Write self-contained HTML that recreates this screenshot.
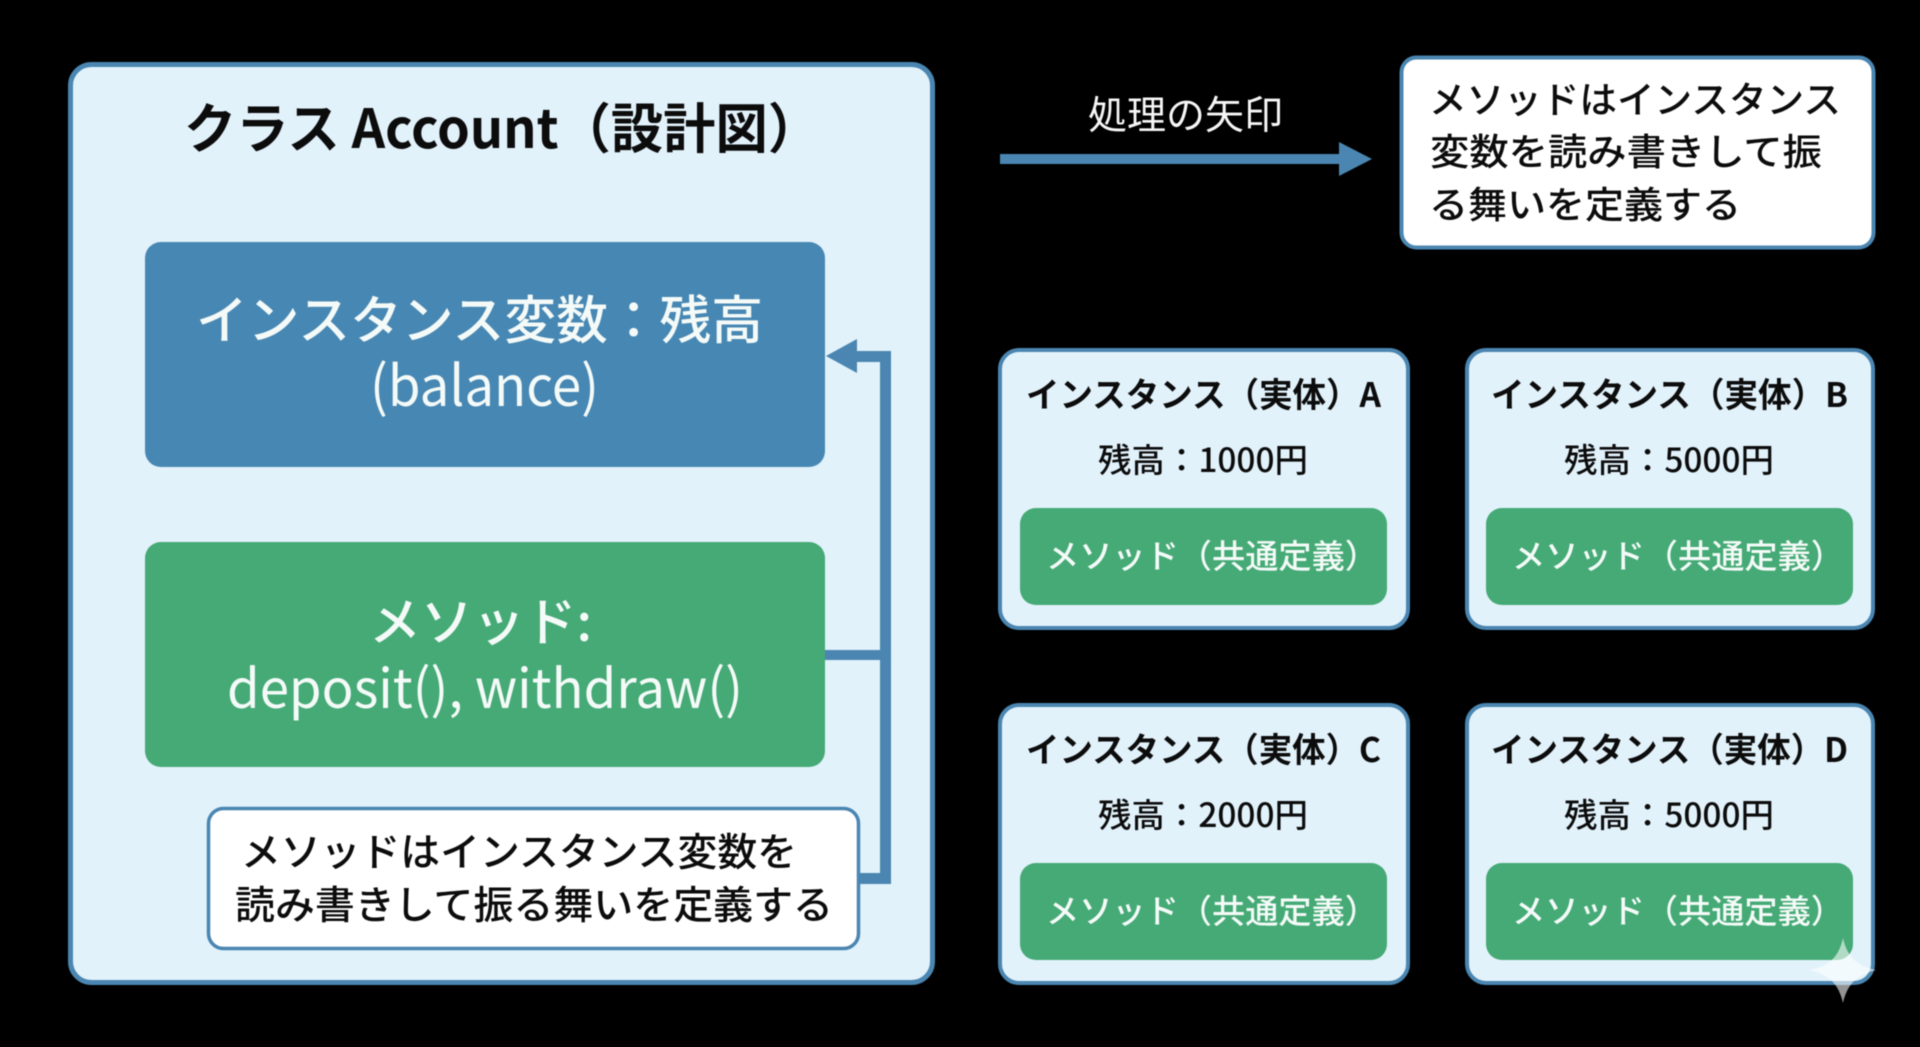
<!DOCTYPE html>
<html lang="ja">
<head>
<meta charset="utf-8">
<title>クラス Account</title>
<style>
html,body{margin:0;padding:0;background:#000;width:1920px;height:1047px;overflow:hidden}
svg{display:block;position:absolute;left:0;top:0;filter:blur(0.4px)}
text{font-family:"Noto Sans CJK JP","Liberation Sans",sans-serif;white-space:pre}
.k{fill:#0c0c0c}
.w{fill:#f4faf8}
.panel{fill:#e2f2fb;stroke:#4a86b1}
.grn{fill:#45aa75}
.ln{fill:#4a86b1}
</style>
</head>
<body>
<svg width="1920" height="1047" viewBox="0 0 1920 1047" xmlns="http://www.w3.org/2000/svg">
<rect x="0" y="0" width="1920" height="1047" fill="#000"/>

<!-- class panel -->
<rect class="panel" x="70.5" y="64.5" width="862" height="918" rx="21" stroke-width="5"/>
<text class="k" x="184" y="148" font-size="54" font-weight="700" textLength="636" lengthAdjust="spacingAndGlyphs">クラス Account（設計図）</text>

<rect x="145" y="242" width="680" height="225" rx="16" fill="#4787b3"/>
<text class="w" x="196" y="339" font-size="52" font-weight="500" textLength="567" lengthAdjust="spacingAndGlyphs">インスタンス変数：残高</text>
<text class="w" x="370" y="406" font-size="56" font-weight="400" textLength="229" lengthAdjust="spacingAndGlyphs">(balance)</text>

<rect x="145" y="542" width="680" height="225" rx="16" class="grn"/>
<text class="w" x="369" y="641" font-size="52" font-weight="500" textLength="223" lengthAdjust="spacingAndGlyphs">メソッド:</text>
<text class="w" x="227" y="708" font-size="54" font-weight="400" textLength="516" lengthAdjust="spacingAndGlyphs">deposit(), withdraw()</text>

<!-- connectors -->
<rect class="ln" x="880" y="351" width="11" height="533"/>
<rect class="ln" x="850" y="351" width="41" height="11"/>
<polygon class="ln" points="826,356 857,339 857,373"/>
<rect class="ln" x="825" y="650" width="60" height="10"/>
<rect class="ln" x="858" y="873" width="33" height="11"/>

<!-- method note -->
<rect x="208.5" y="808.5" width="650" height="140" rx="15" fill="#fff" stroke="#4a86b1" stroke-width="3.5"/>
<text class="k" x="241" y="866" font-size="39" font-weight="500" textLength="556" lengthAdjust="spacingAndGlyphs">メソッドはインスタンス変数を</text>
<text class="k" x="235" y="919" font-size="39" font-weight="500" textLength="598" lengthAdjust="spacingAndGlyphs">読み書きして振る舞いを定義する</text>

<!-- process arrow -->
<text x="1088" y="129" font-size="39" font-weight="400" fill="#f6f6f6" textLength="195" lengthAdjust="spacingAndGlyphs">処理の矢印</text>
<rect class="ln" x="1000" y="154" width="342" height="10"/>
<polygon class="ln" points="1339,142 1372,159 1339,176"/>

<!-- top right note -->
<rect x="1401.5" y="57.5" width="472" height="190" rx="15" fill="#fff" stroke="#4a86b1" stroke-width="4"/>
<text class="k" x="1429" y="113" font-size="37" font-weight="500" textLength="412" lengthAdjust="spacingAndGlyphs">メソッドはインスタンス</text>
<text class="k" x="1430" y="165" font-size="37" font-weight="500" textLength="392" lengthAdjust="spacingAndGlyphs">変数を読み書きして振</text>
<text class="k" x="1429" y="218" font-size="37" font-weight="500" textLength="312" lengthAdjust="spacingAndGlyphs">る舞いを定義する</text>

<!-- instance A -->
<rect class="panel" x="1000" y="350" width="408" height="278" rx="19" stroke-width="4"/>
<text class="k" x="1026" y="407" font-size="34" font-weight="700" textLength="355" lengthAdjust="spacingAndGlyphs">インスタンス（実体）A</text>
<text class="k" x="1098" y="472" font-size="33" font-weight="500" textLength="210" lengthAdjust="spacingAndGlyphs">残高：1000円</text>
<rect class="grn" x="1020" y="508" width="367" height="97" rx="16"/>
<text class="w" x="1046" y="568" font-size="33" font-weight="500" textLength="332" lengthAdjust="spacingAndGlyphs">メソッド（共通定義）</text>

<!-- instance B -->
<rect class="panel" x="1467" y="350" width="406" height="278" rx="19" stroke-width="4"/>
<text class="k" x="1491" y="407" font-size="34" font-weight="700" textLength="357" lengthAdjust="spacingAndGlyphs">インスタンス（実体）B</text>
<text class="k" x="1564" y="472" font-size="33" font-weight="500" textLength="210" lengthAdjust="spacingAndGlyphs">残高：5000円</text>
<rect class="grn" x="1486" y="508" width="367" height="97" rx="16"/>
<text class="w" x="1512" y="568" font-size="33" font-weight="500" textLength="332" lengthAdjust="spacingAndGlyphs">メソッド（共通定義）</text>

<!-- instance C -->
<rect class="panel" x="1000" y="705" width="408" height="278" rx="19" stroke-width="4"/>
<text class="k" x="1026" y="762" font-size="34" font-weight="700" textLength="355" lengthAdjust="spacingAndGlyphs">インスタンス（実体）C</text>
<text class="k" x="1098" y="827" font-size="33" font-weight="500" textLength="210" lengthAdjust="spacingAndGlyphs">残高：2000円</text>
<rect class="grn" x="1020" y="863" width="367" height="97" rx="16"/>
<text class="w" x="1046" y="923" font-size="33" font-weight="500" textLength="332" lengthAdjust="spacingAndGlyphs">メソッド（共通定義）</text>

<!-- instance D -->
<rect class="panel" x="1467" y="705" width="406" height="278" rx="19" stroke-width="4"/>
<text class="k" x="1491" y="762" font-size="34" font-weight="700" textLength="357" lengthAdjust="spacingAndGlyphs">インスタンス（実体）D</text>
<text class="k" x="1564" y="827" font-size="33" font-weight="500" textLength="210" lengthAdjust="spacingAndGlyphs">残高：5000円</text>
<rect class="grn" x="1486" y="863" width="367" height="97" rx="16"/>
<text class="w" x="1512" y="923" font-size="33" font-weight="500" textLength="332" lengthAdjust="spacingAndGlyphs">メソッド（共通定義）</text>

<!-- sparkle watermark -->
<path d="M1843 938 C1847 956 1856 966 1876 970 C1856 975 1847 985 1843 1003 C1839 985 1830 975 1810 970 C1830 966 1839 956 1843 938 Z" fill="#fff" opacity="0.58"/>
</svg>
</body>
</html>
